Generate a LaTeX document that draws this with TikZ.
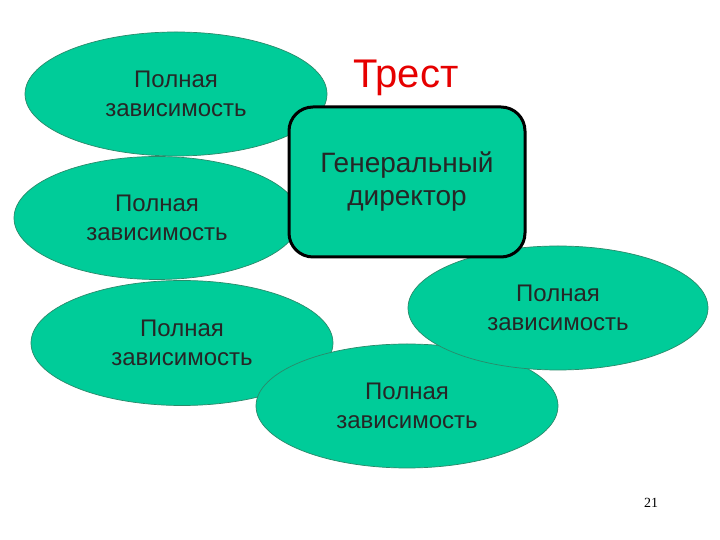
\documentclass[tikz,border=0pt]{standalone}
\usepackage{fontspec}
\setmainfont{Liberation Sans}
\newfontfamily\serifnum{Liberation Serif}
\usetikzlibrary{shapes.geometric}
\definecolor{teal1}{HTML}{00CC99}
\definecolor{tealedge}{HTML}{2A8A6A}
\definecolor{titlered}{HTML}{E60000}
\tikzset{
  dep/.style={ellipse, fill=teal1, draw=tealedge, line width=0.7pt, inner sep=0pt,
    align=center, font=\fontsize{24}{29}\selectfont, text=black!85},
  boss/.style={rectangle, rounded corners=24pt, fill=teal1, draw=black, line width=3pt,
    minimum width=236pt, minimum height=150pt, align=center,
    font=\fontsize{28}{33}\selectfont, text=black!85}
}
\begin{document}
\begin{tikzpicture}[x=1pt,y=1pt]
\useasboundingbox (0,0) rectangle (720,540);
\node[dep, minimum width=302pt, minimum height=124pt] (e1) at (176,446) {Полная\\зависимость};
\node[dep, minimum width=286pt, minimum height=123pt] (e2) at (157,322) {Полная\\зависимость};
\node[dep, minimum width=302pt, minimum height=125pt] (e3) at (182,197) {Полная\\зависимость};
\node[dep, minimum width=302pt, minimum height=124pt] (e5) at (407,134) {Полная\\зависимость};
\node[dep, minimum width=300pt, minimum height=124pt] (e4) at (558,232) {Полная\\зависимость};
\node[boss] (gd) at (407,358) {Генеральный\\директор};
\node[font=\fontsize{40}{46}\selectfont, text=titlered] (title) at (406,462) {Трест};
\node[font=\serifnum\fontsize{14}{16}\selectfont] (num) at (651,37) {21};
\end{tikzpicture}
\end{document}
